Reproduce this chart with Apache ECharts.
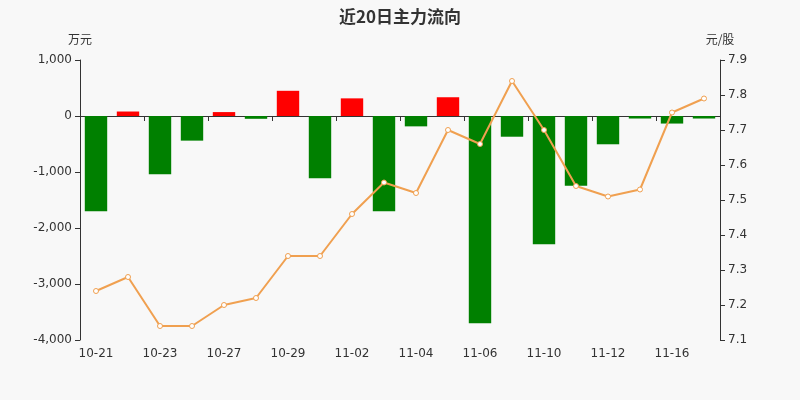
<!DOCTYPE html>
<html><head><meta charset="utf-8">
<script src="https://cdn.jsdelivr.net/npm/echarts@6/dist/echarts.min.js"></script>
<style>html,body{margin:0;padding:0;background:#f8f8f8}#c{width:800px;height:400px}</style>
</head><body><div id="c"></div>
<script>
const categories = ['10-21','10-22','10-23','10-26','10-27','10-28','10-29','10-30','11-02','11-03','11-04','11-05','11-06','11-09','11-10','11-11','11-12','11-13','11-16','11-17'];
const flowValues = [-1700,80,-1040,-440,70,-50,450,-1110,315,-1700,-185,335,-3700,-370,-2290,-1245,-505,-45,-135,-45];
const priceValues = [7.24,7.28,7.14,7.14,7.20,7.22,7.34,7.34,7.46,7.55,7.52,7.70,7.66,7.84,7.70,7.54,7.51,7.53,7.75,7.79];
const leftTicks = {min:-4000, max:1000, interval:1000};
const rightTicks = {min:7.1, max:7.9, interval:0.1};

const chart = echarts.init(document.getElementById('c'));
chart.setOption({
  backgroundColor:'#f8f8f8',
  animation:false,
  title:{text:'近20日主力流向', left:'center', top:3, textStyle:{fontSize:17, fontWeight:'bold', color:'#333', fontFamily:'Noto Sans CJK SC'}},
  grid:{left:80, right:80, top:60, bottom:60},
  xAxis:{type:'category', data:categories,
    axisLine:{onZero:true, lineStyle:{color:'#333'}},
    axisTick:{show:true, interval:1, lineStyle:{color:'#333'}},
    axisLabel:{interval:1, color:'#333', fontSize:12, fontFamily:'DejaVu Sans'}},
  yAxis:[
    {type:'value', name:'万元', nameTextStyle:{color:'#333', fontSize:12, fontFamily:'Noto Sans CJK SC'}, nameGap:15,
     min:leftTicks.min, max:leftTicks.max, interval:leftTicks.interval,
     axisLine:{show:true, lineStyle:{color:'#333'}}, axisTick:{show:true, lineStyle:{color:'#333'}},
     splitLine:{show:false}, axisLabel:{color:'#333', fontSize:12, fontFamily:'DejaVu Sans'}},
    {type:'value', name:'元/股', nameTextStyle:{color:'#333', fontSize:12, fontFamily:'Noto Sans CJK SC'}, nameGap:15,
     min:rightTicks.min, max:rightTicks.max, interval:rightTicks.interval,
     axisLine:{show:true, lineStyle:{color:'#333'}}, axisTick:{show:true, lineStyle:{color:'#333'}},
     splitLine:{show:false}, axisLabel:{color:'#333', fontSize:12, fontFamily:'DejaVu Sans', formatter:v=>v.toFixed(1)}}
  ],
  series:[
    {type:'bar', data:flowValues, barWidth:'70%', yAxisIndex:0,
     itemStyle:{color:p=>p.value>=0?'#ff0000':'#008000'}},
    {type:'line', data:priceValues, yAxisIndex:1, symbol:'circle', symbolSize:5,
     lineStyle:{color:'#f0a050', width:2}, itemStyle:{color:'#fff', borderColor:'#f0a050', borderWidth:1}}
  ]
});
</script></body></html>
